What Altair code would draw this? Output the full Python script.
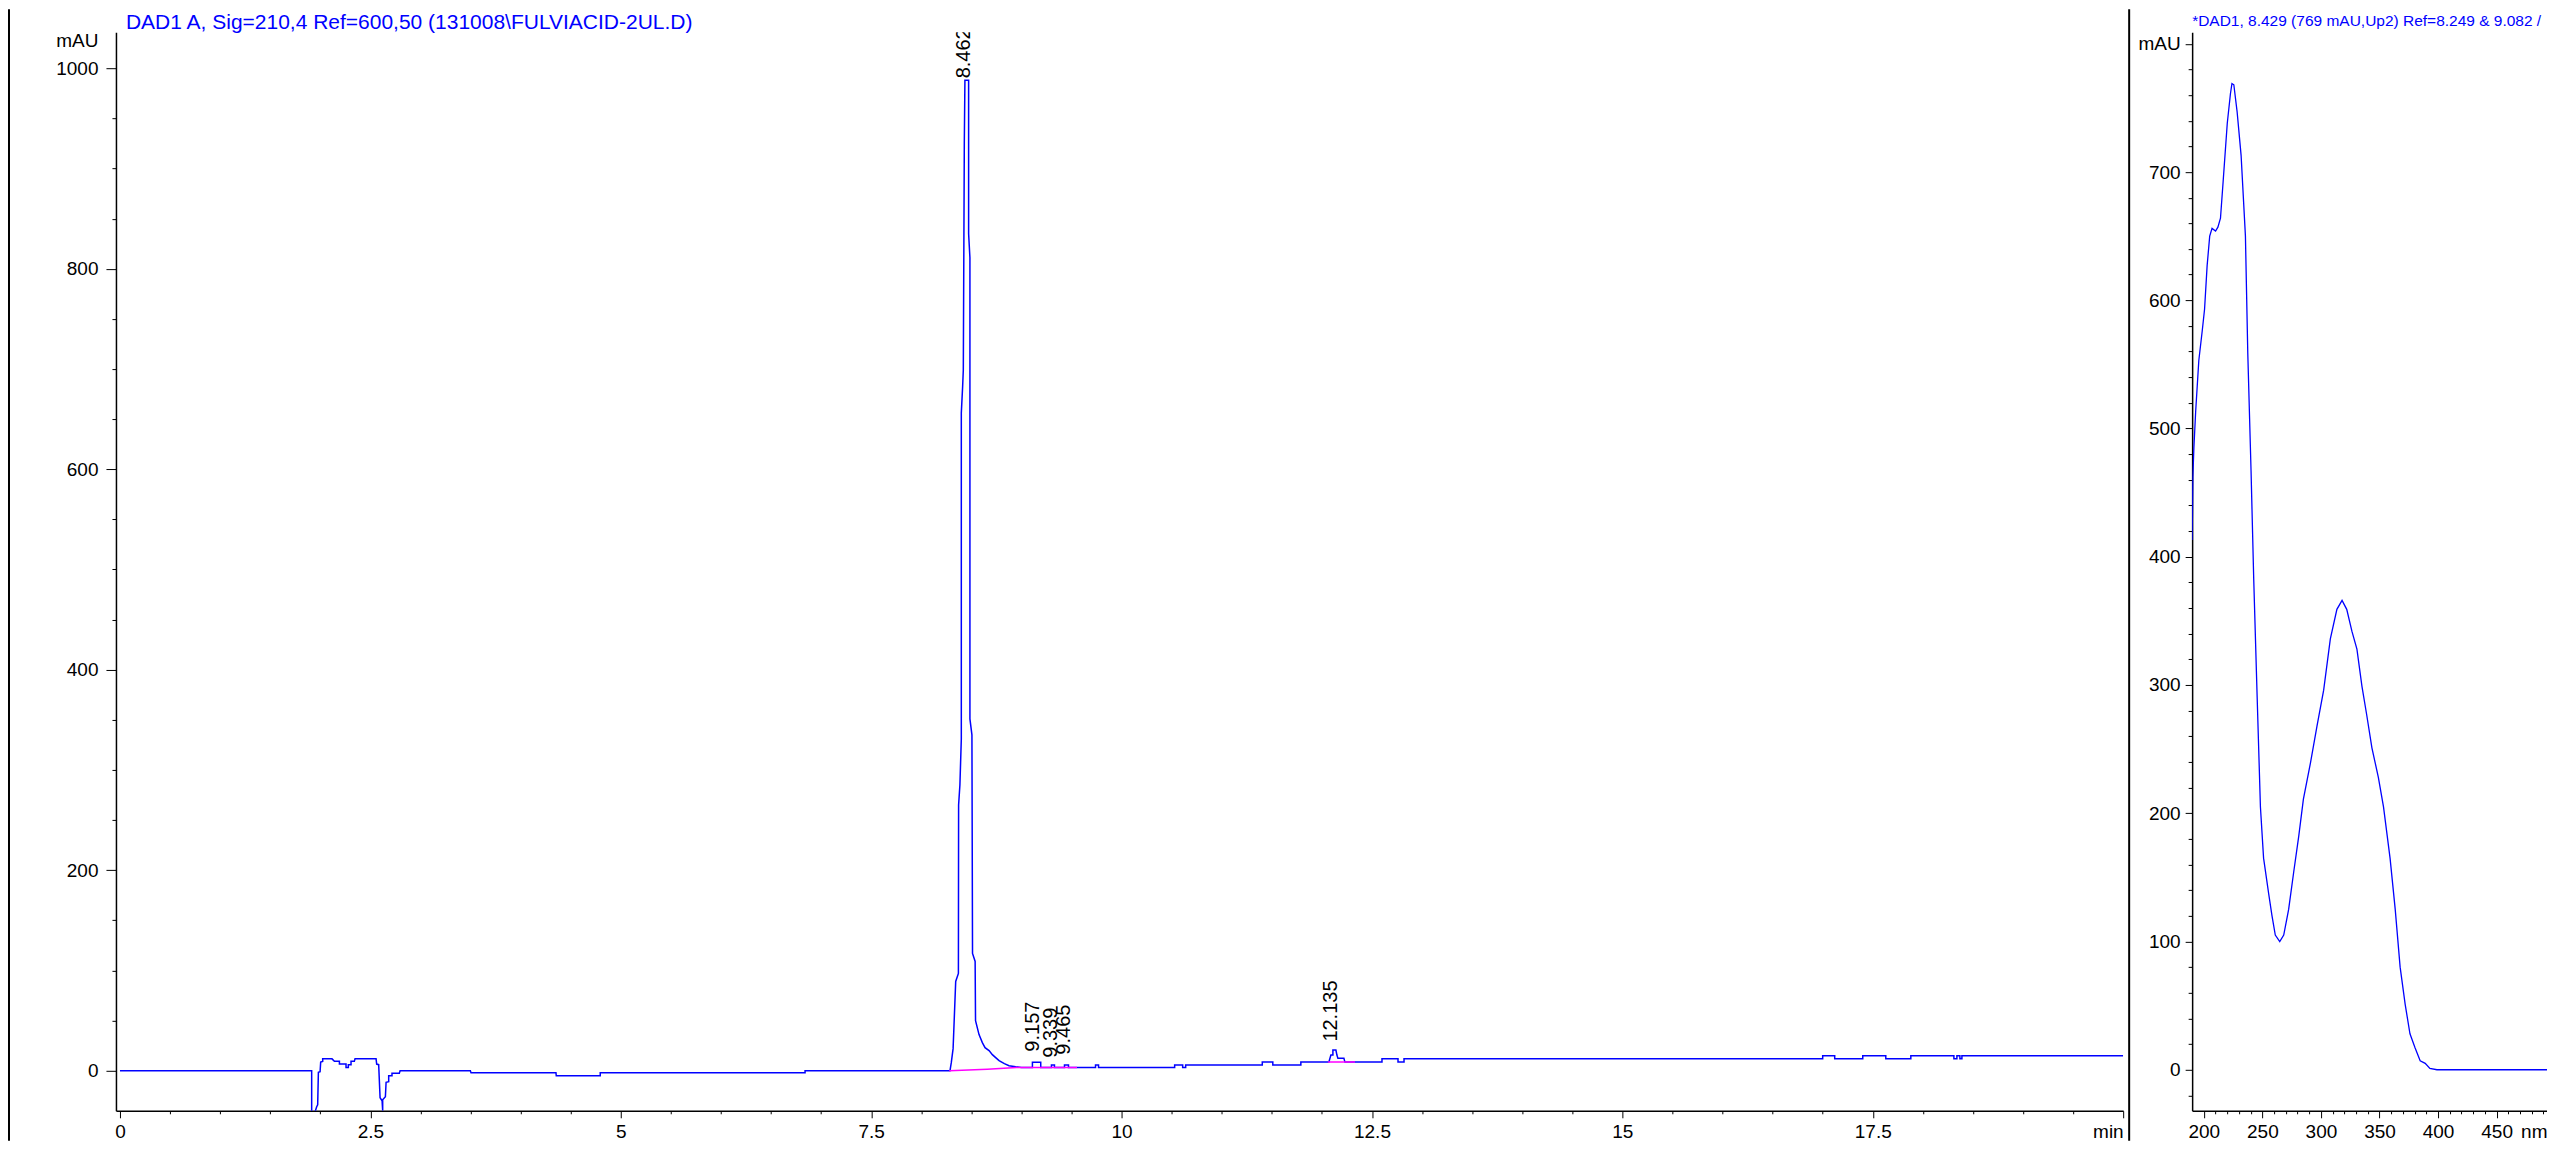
import altair as alt
import pandas as pd

# ---------------- chromatogram (DAD1 A, 210 nm) ----------------
times = [0, 1.914, 1.914, 1.941, 1.948, 1.964, 1.974, 1.981, 1.998, 2.004, 2.024, 2.024,
         2.117, 2.141, 2.191, 2.191, 2.257, 2.257, 2.280, 2.280, 2.307, 2.307, 2.340, 2.347,
         2.557, 2.563, 2.583, 2.597, 2.617, 2.623, 2.623, 2.650, 2.657, 2.683, 2.683, 2.716,
         2.716, 2.789, 2.797, 3.498, 3.505, 4.353, 4.356, 4.795, 4.795, 6.84, 6.84,
         8.287, 8.30, 8.318, 8.344, 8.371, 8.373, 8.386, 8.40, 8.40, 8.413, 8.42, 8.43,
         8.436, 8.473, 8.473, 8.486, 8.486, 8.506, 8.512, 8.538, 8.542, 8.577, 8.61, 8.637,
         8.677, 8.71, 8.743, 8.777, 8.83, 8.876, 8.943, 9.0,
         9.11, 9.11, 9.193, 9.193, 9.30, 9.30, 9.33, 9.33, 9.43, 9.43, 9.47, 9.47,
         9.74, 9.74, 9.77, 9.77, 10.53, 10.53, 10.61, 10.61, 10.64, 10.64, 11.405, 11.405,
         11.51, 11.51, 11.79, 11.79, 12.07, 12.09, 12.11, 12.11, 12.14, 12.15, 12.16, 12.22,
         12.23, 12.60, 12.60, 12.76, 12.76, 12.82, 12.82, 17.00, 17.00, 17.12, 17.12, 17.40,
         17.40, 17.63, 17.63, 17.88, 17.88, 18.31, 18.31, 18.34, 18.34, 18.37, 18.37, 18.39,
         18.39, 20.0]
signal = [0, 0, -60, -60, -41, -36, -34, -1.6, -1, 8.6, 9.3, 11.8,
          11.8, 9.3, 9.3, 6.6, 6.6, 3.3, 3.3, 6, 6, 9.3, 9.3, 11.8,
          11.8, 6.6, 6, -27, -30, -40, -29, -26, -11.6, -11, -5, -5,
          -2.6, -2.6, 0, 0, -2, -2, -5, -5, -2, -2, 0,
          0, 8, 22, 89, 97, 265, 285, 331, 656, 682, 699, 926,
          988, 988, 835, 811, 351, 335, 117, 109, 50, 36, 28, 23,
          20, 16, 13, 10, 7, 5, 4, 3.3,
          3.3, 8.3, 8.3, 3.3, 3.3, 5.6, 5.6, 3.3, 3.3, 5.6, 5.6, 3.3,
          3.3, 5.6, 5.6, 3.3, 3.3, 5.6, 5.6, 3.3, 3.3, 5.6, 5.6, 8.6,
          8.6, 5.6, 5.6, 8.6, 8.6, 15.6, 15.6, 20.6, 20.6, 15.6, 12.3, 12.3,
          8.6, 8.6, 11.8, 11.8, 8.6, 8.6, 11.8, 11.8, 14.9, 14.9, 11.8, 11.8,
          14.9, 14.9, 11.8, 11.8, 14.9, 14.9, 11.8, 11.8, 14.9, 14.9, 11.8, 11.8,
          14.9, 14.9]

# integration baselines (magenta)
base_seg = [1, 1, 1, 1, 2, 2]
base_t = [8.28, 8.66, 8.95, 9.555, 12.06, 12.33]
base_v = [0, 1.5, 3.2, 3.3, 8.6, 8.6]

# peak retention-time labels
peak_rt = [8.462, 9.157, 9.339, 9.465, 12.135]
peak_label_y = [990, 19, 13, 16, 29]
peak_labels = ["8.462", "9.157", "9.339", "9.465", "12.135"]

# ---------------- UV spectrum at 8.429 min ----------------
spec_wl = [190, 190.6, 191.5, 193, 195.7, 198.6, 200.6, 202.8, 205, 207, 210, 212, 214.2,
           216.5, 220, 222.7, 224, 225.6, 228.4, 231.8, 235.5, 237.5, 240.3, 242.6, 245.5,
           248.3, 251, 255.4, 258.2, 261, 264.8, 268.2, 272.4, 276.7, 281, 285, 291, 296.6,
           302.3, 308, 313.6, 318, 322, 326.4, 330.7, 335, 339, 343.5, 349, 353.4, 359,
           363.4, 367.6, 371.9, 376, 380.4, 384.7, 389, 393, 399, 500]
spec_abs = [413, 462, 485, 513, 553, 576, 593, 627, 650, 656, 654, 657, 664,
            693, 738, 761, 769, 768, 747, 713, 650, 559, 467, 382, 291,
            205, 165, 137, 120, 105, 100, 105, 125, 154, 182, 211, 239, 268,
            296, 336, 359, 366, 359, 342, 328, 299, 277, 251, 228, 205, 165,
            125, 80, 51, 28, 17, 7, 5, 1, 0, 0]

main_title = "DAD1 A, Sig=210,4 Ref=600,50 (131008\\FULVIACID-2UL.D)"
spec_title = "*DAD1, 8.429 (769 mAU,Up2) Ref=8.249 & 9.082 /"

W1, H, W2 = 2008, 1079, 355
FONT = "Liberation Sans, Arial, sans-serif"
BLUE = "#0000FF"
MAGENTA = "#FF00FF"

chrom_df = pd.DataFrame({"t": times, "v": signal, "i": list(range(len(times)))})
base_df = pd.DataFrame({"t": base_t, "v": base_v, "seg": base_seg,
                        "i": list(range(len(base_t)))})
peak_df = pd.DataFrame({"t": peak_rt, "v": peak_label_y, "label": peak_labels})
spec_df = pd.DataFrame({"wl": spec_wl, "a": spec_abs, "i": list(range(len(spec_wl)))})
one = pd.DataFrame({"k": [0]})


def cond(test, a, b):
    return {"condition": {"test": test, "value": a}, "value": b}


x_main = alt.X(
    "t:Q",
    scale=alt.Scale(domain=[-0.04, 20], nice=False, zero=False),
    axis=alt.Axis(
        values=[i * 0.5 for i in range(41)],
        labelExpr="datum.value % 2.5 == 0 ? (datum.value == 20 ? 'min' : '' + datum.value) : ''",
        tickSize=cond("datum.value % 2.5 == 0", 7, 3),
        labelAlign=cond("datum.value == 20", "right", "center"),
        labelPadding=5,
        title=None,
    ),
)
y_main = alt.Y(
    "v:Q",
    scale=alt.Scale(domain=[-40, 1036], nice=False, zero=False),
    axis=alt.Axis(
        values=list(range(0, 1001, 50)),
        labelExpr="datum.value % 200 == 0 ? '' + datum.value : ''",
        tickSize=cond("datum.value % 200 == 0", 10, 4),
        labelPadding=8,
        title="mAU",
        titleAngle=0,
        titleAlign="right",
        titleBaseline="middle",
        titleX=-18,
        titleY=8,
    ),
)

trace = alt.Chart(chrom_df).mark_line(color=BLUE, strokeWidth=1.5, clip=True).encode(
    x=x_main, y=y_main, order="i:Q"
)
baseline = alt.Chart(base_df).mark_line(color=MAGENTA, strokeWidth=1.5, clip=True).encode(
    x=x_main, y=y_main, detail="seg:N", order="i:Q"
)
labels = alt.Chart(peak_df).mark_text(
    angle=270, align="left", baseline="alphabetic", dy=2, fontSize=20,
    font=FONT, color="black", clip=True
).encode(x=x_main, y=y_main, text="label:N")

main_head = alt.Chart(one).mark_text(
    text=main_title, align="left", baseline="alphabetic", fontSize=21,
    font=FONT, color=BLUE
).encode(x=alt.value(10), y=alt.value(-3))

frame_left = alt.Chart(one).mark_rule(color="black", strokeWidth=2).encode(
    x=alt.value(-107), y=alt.value(-23), y2=alt.value(H + 30)
)
divider = alt.Chart(one).mark_rule(color="black", strokeWidth=2).encode(
    x=alt.value(W1 + 6), y=alt.value(-23), y2=alt.value(H + 30)
)

main = alt.layer(trace, baseline, labels, main_head, frame_left, divider).properties(
    width=W1, height=H
)

x_spec = alt.X(
    "wl:Q",
    scale=alt.Scale(domain=[190, 493], nice=False, zero=False),
    axis=alt.Axis(
        values=list(range(200, 491, 10)),
        labelExpr="datum.value % 50 == 0 ? '' + datum.value : ''",
        tickSize=cond("datum.value % 50 == 0", 7, 3),
        labelPadding=5,
        title="nm",
        titleX=W2,
        titleY=12,
        titleAlign="right",
        titleBaseline="top",
    ),
)
y_spec = alt.Y(
    "a:Q",
    scale=alt.Scale(domain=[-32, 809], nice=False, zero=False),
    axis=alt.Axis(
        values=list(range(-20, 801, 20)),
        labelExpr="datum.value == 800 ? 'mAU' : (datum.value % 100 == 0 && datum.value >= 0 ? '' + datum.value : '')",
        tickSize=cond("datum.value % 100 == 0", 7, 4),
        labelPadding=5,
        title=None,
    ),
)
spec_line = alt.Chart(spec_df).mark_line(color=BLUE, strokeWidth=1.3, clip=True).encode(
    x=x_spec, y=y_spec, order="i:Q"
)
spec_head = alt.Chart(one).mark_text(
    text=spec_title, align="left", baseline="alphabetic", fontSize=15.5,
    font=FONT, color=BLUE
).encode(x=alt.value(0), y=alt.value(-6))

spec = alt.layer(spec_line, spec_head).properties(width=W2, height=H)

chart = alt.hconcat(main, spec, spacing=7).properties(
    padding={"left": 0, "top": 0, "right": 0, "bottom": 0}
).configure_view(strokeOpacity=0).configure_axis(
    labelFont=FONT, labelFontSize=19, labelColor="black",
    titleFont=FONT, titleFontSize=19, titleColor="black", titleFontWeight="normal",
    tickColor="black", domainColor="black", domainWidth=1.5, tickWidth=1,
    labelOverlap=False, labelFlush=False, grid=False,
)

chart.save("out.html", embed_options={"renderer": "svg", "actions": False})
